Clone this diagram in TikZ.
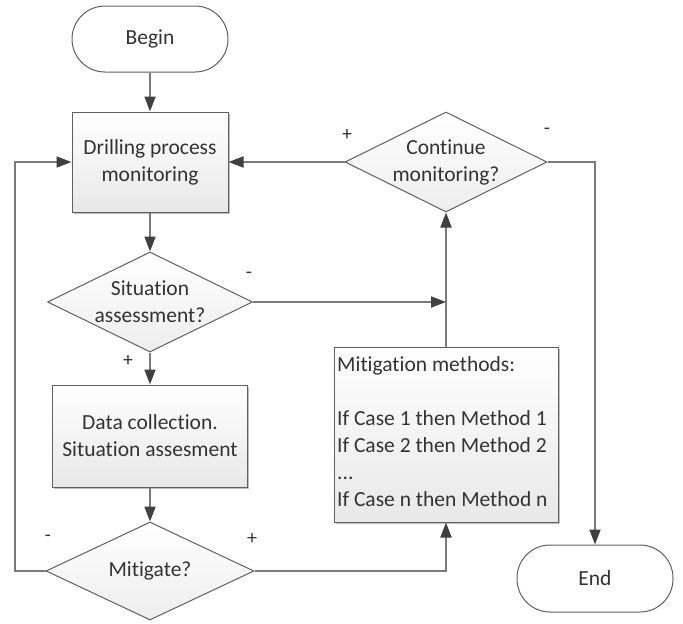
\documentclass[tikz,border=0pt]{standalone}
\usepackage{fontspec}
\setmainfont{Carlito}[Ligatures=NoCommon]
\usetikzlibrary{shapes.geometric,arrows.meta,shadows}
\definecolor{txt}{HTML}{333333}
\definecolor{edge}{HTML}{606060}
\definecolor{conn}{HTML}{7A7A7A}
\definecolor{tipc}{HTML}{404040}
\begin{document}
\begin{tikzpicture}[x=1pt,y=-1pt,
  every node/.style={font=\fontsize{21.5pt}{27pt}\selectfont, text=txt},
  procbox/.style={rectangle, draw=edge, line width=1pt, top color=white, bottom color=black!9,
     drop shadow={shadow xshift=1.5pt,shadow yshift=-1.5pt,fill=black,opacity=0.25},
     align=center, inner sep=0pt},
  termbox/.style={rectangle, draw=edge, line width=1pt, fill=white, rounded corners=33pt,
     minimum width=156pt, minimum height=66pt, inner sep=0pt},
  decbox/.style={diamond, draw=edge, line width=1pt, top color=white, bottom color=black!7,
     inner sep=0pt, aspect=2},
  dtext/.style={align=center, inner sep=0pt},
  sign/.style={inner sep=0pt, font=\fontsize{20pt}{24pt}\selectfont},
  arr/.style={draw=conn, line width=1.8pt, -{Triangle[length=15pt,width=11pt,color=tipc]}},
  ln/.style={draw=conn, line width=1.8pt}
]
\useasboundingbox (0,0) rectangle (683,624);

% nodes
\node[termbox] (begin) at (150,39) {Begin};
\node[procbox, minimum width=156pt, minimum height=100pt] (drill) at (150,162) {Drilling process\\monitoring};
\node[decbox, minimum width=205pt, minimum height=100pt] (sit) at (150,302) {};
\node[dtext] (sitT) at (150,302) {Situation\\assessment?};
\node[procbox, minimum width=195pt, minimum height=102pt] (data) at (150,436) {Data collection.\\Situation assesment};
\node[procbox, minimum width=224pt, minimum height=175pt] (meth) at (446,434.5) {};
\node[inner sep=0pt, align=left, anchor=west] (methT) at ([xshift=3.5pt,yshift=3pt]meth.west)
  {Mitigation methods:\\[27pt]If Case 1 then Method 1\\If Case 2 then Method 2\\...\\If Case n then Method n};
\node[decbox, minimum width=208pt, minimum height=98pt] (mitd) at (150,571) {};
\node[dtext] (mitdT) at (150,571) {Mitigate?};
\node[decbox, minimum width=202pt, minimum height=100pt] (cont) at (446,162) {};
\node[dtext] (contT) at (446,162) {Continue\\monitoring?};
\node[termbox, minimum height=67pt] (end) at (595,578.5) {End};

\coordinate (lft) at (15,571);
\coordinate (lfttop) at (15,162);
\coordinate (rgt) at (446,571);
\coordinate (junc) at (446,302);
\coordinate (endtop) at (595,162);

% connectors
\draw[arr] (begin.south) -- (drill.north);
\draw[arr] (drill.south) -- (sit.north);
\draw[arr] (sit.south) -- (data.north);
\draw[arr] (data.south) -- (mitd.north);
\draw[arr] (mitd.west) -- (lft) -- (lfttop) -- (drill.west);
\draw[arr] (mitd.east) -- (rgt) -- (meth.south);
\draw[arr] (meth.north) -- (cont.south);
\draw[arr] (cont.west) -- (drill.east);
\draw[arr] (cont.east) -- (endtop) -- (end.north);
\draw[arr] (sit.east) -- (junc);

% signs
\node[sign] (s1) at (347,135) {+};
\node[sign] (s2) at (547,131) {-};
\node[sign] (s3) at (249,275) {-};
\node[sign] (s4) at (128,361) {+};
\node[sign] (s5) at (48,538) {-};
\node[sign] (s6) at (252,539) {+};
\end{tikzpicture}
\end{document}
